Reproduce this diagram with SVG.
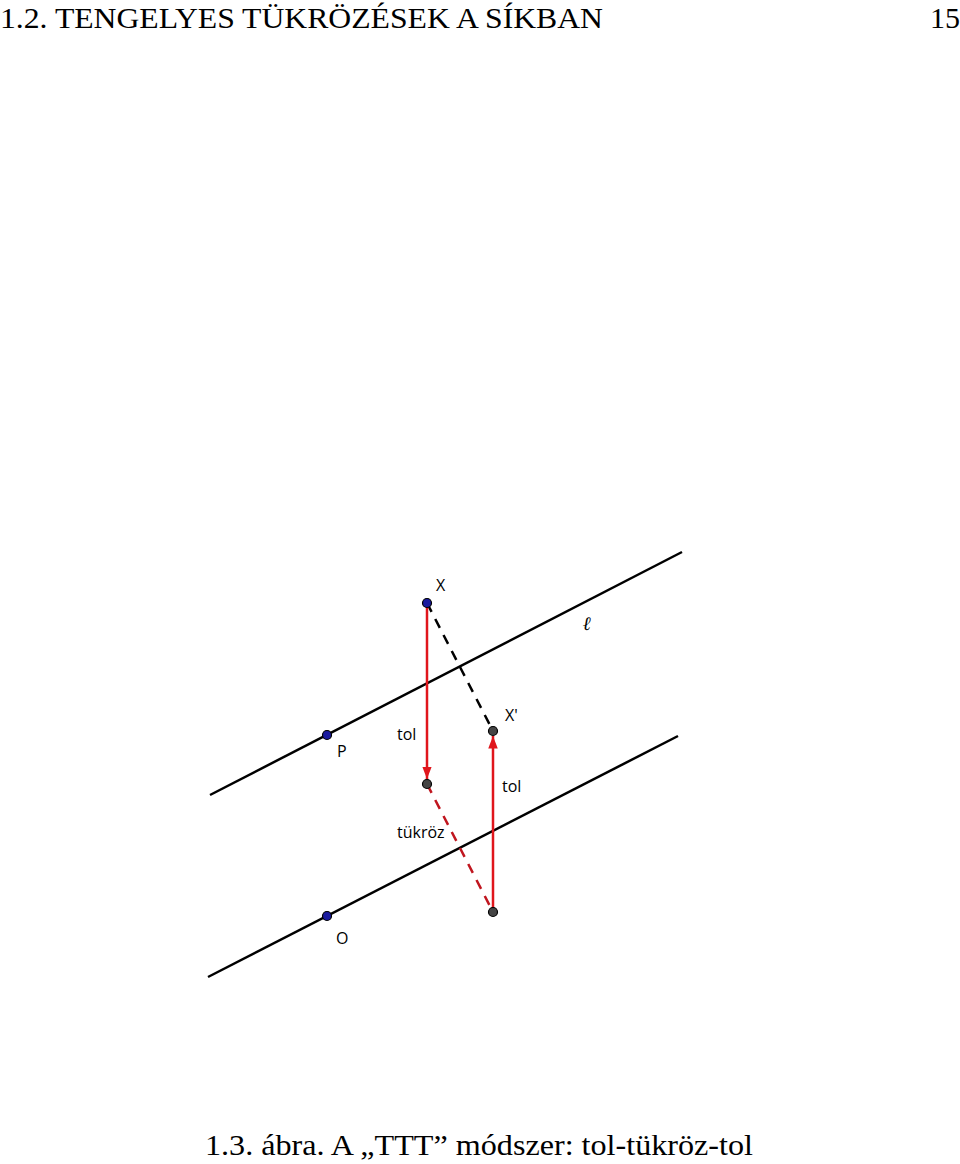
<svg xmlns="http://www.w3.org/2000/svg" width="960" height="1164" viewBox="0 0 960 1164">
<defs>
<style>
.serif{font-family:"Liberation Serif","DejaVu Serif",serif;font-size:30px;fill:#000}
.lbl{font-family:"Open Sans","Noto Sans",sans-serif;font-size:16px;fill:#000}
.ell{font-family:"DejaVu Serif","Liberation Serif",serif;font-style:italic;font-weight:bold;font-size:19px;fill:#000}
.line{stroke:#000;stroke-width:2.5;fill:none}
.dash{stroke:#000;stroke-width:2.5;stroke-dasharray:10,8;fill:none}
.rdash{stroke:#c0161f;stroke-width:2.5;stroke-dasharray:10,8;fill:none}
.red{stroke:#e0161c;stroke-width:2.5;fill:none}
.blue{fill:#1a1a9e;stroke:#000;stroke-width:1.2}
.gray{fill:#444;stroke:#000;stroke-width:1.2}
</style>
<marker id="ah" viewBox="0 0 10 10" refX="10" refY="5" markerWidth="5" markerHeight="3.8" markerUnits="strokeWidth" orient="auto" preserveAspectRatio="none">
<path d="M0,0 L10,5 L0,10 z" fill="#e0161c"/>
</marker>
</defs>
<text class="serif" x="0" y="28" textLength="603" lengthAdjust="spacingAndGlyphs">1.2. TENGELYES TÜKRÖZÉSEK A SÍKBAN</text>
<text class="serif" x="960" y="28" text-anchor="end">15</text>
<g id="connectors">
<line class="line" x1="210" y1="795" x2="682" y2="552"/>
<line class="line" x1="208" y1="977" x2="678" y2="736"/>
<line class="dash" x1="427" y1="603" x2="493" y2="731"/>
<line class="rdash" x1="427" y1="784" x2="493" y2="912"/>
<line class="red" x1="427" y1="603" x2="427" y2="779" marker-end="url(#ah)"/>
<line class="red" x1="493" y1="912" x2="493" y2="736" marker-end="url(#ah)"/>
</g>
<g id="line-l"><text class="ell" x="583" y="630">ℓ</text></g>
<g id="P"><circle class="blue" cx="327" cy="735" r="4.5"/><text class="lbl" x="337" y="757">P</text></g>
<g id="X"><circle class="blue" cx="427" cy="603" r="4.5"/><text class="lbl" x="436" y="591">X</text></g>
<g id="Xp"><circle class="gray" cx="493" cy="731" r="4.5"/><text class="lbl" x="505" y="721">X'</text></g>
<g id="M"><circle class="gray" cx="427" cy="784" r="4.5"/></g>
<g id="B"><circle class="gray" cx="493" cy="912" r="4.5"/></g>
<g id="O"><circle class="blue" cx="327" cy="916" r="4.5"/><text class="lbl" x="336" y="944">O</text></g>
<g id="lbl-tol1"><text class="lbl" x="397" y="740">tol</text></g>
<g id="lbl-tol2"><text class="lbl" x="502" y="792">tol</text></g>
<g id="lbl-tukroz"><text class="lbl" x="397" y="838">tükröz</text></g>
<text class="serif" x="205" y="1155" textLength="548" lengthAdjust="spacingAndGlyphs">1.3. ábra. A „TTT” módszer: tol-tükröz-tol</text>
</svg>
